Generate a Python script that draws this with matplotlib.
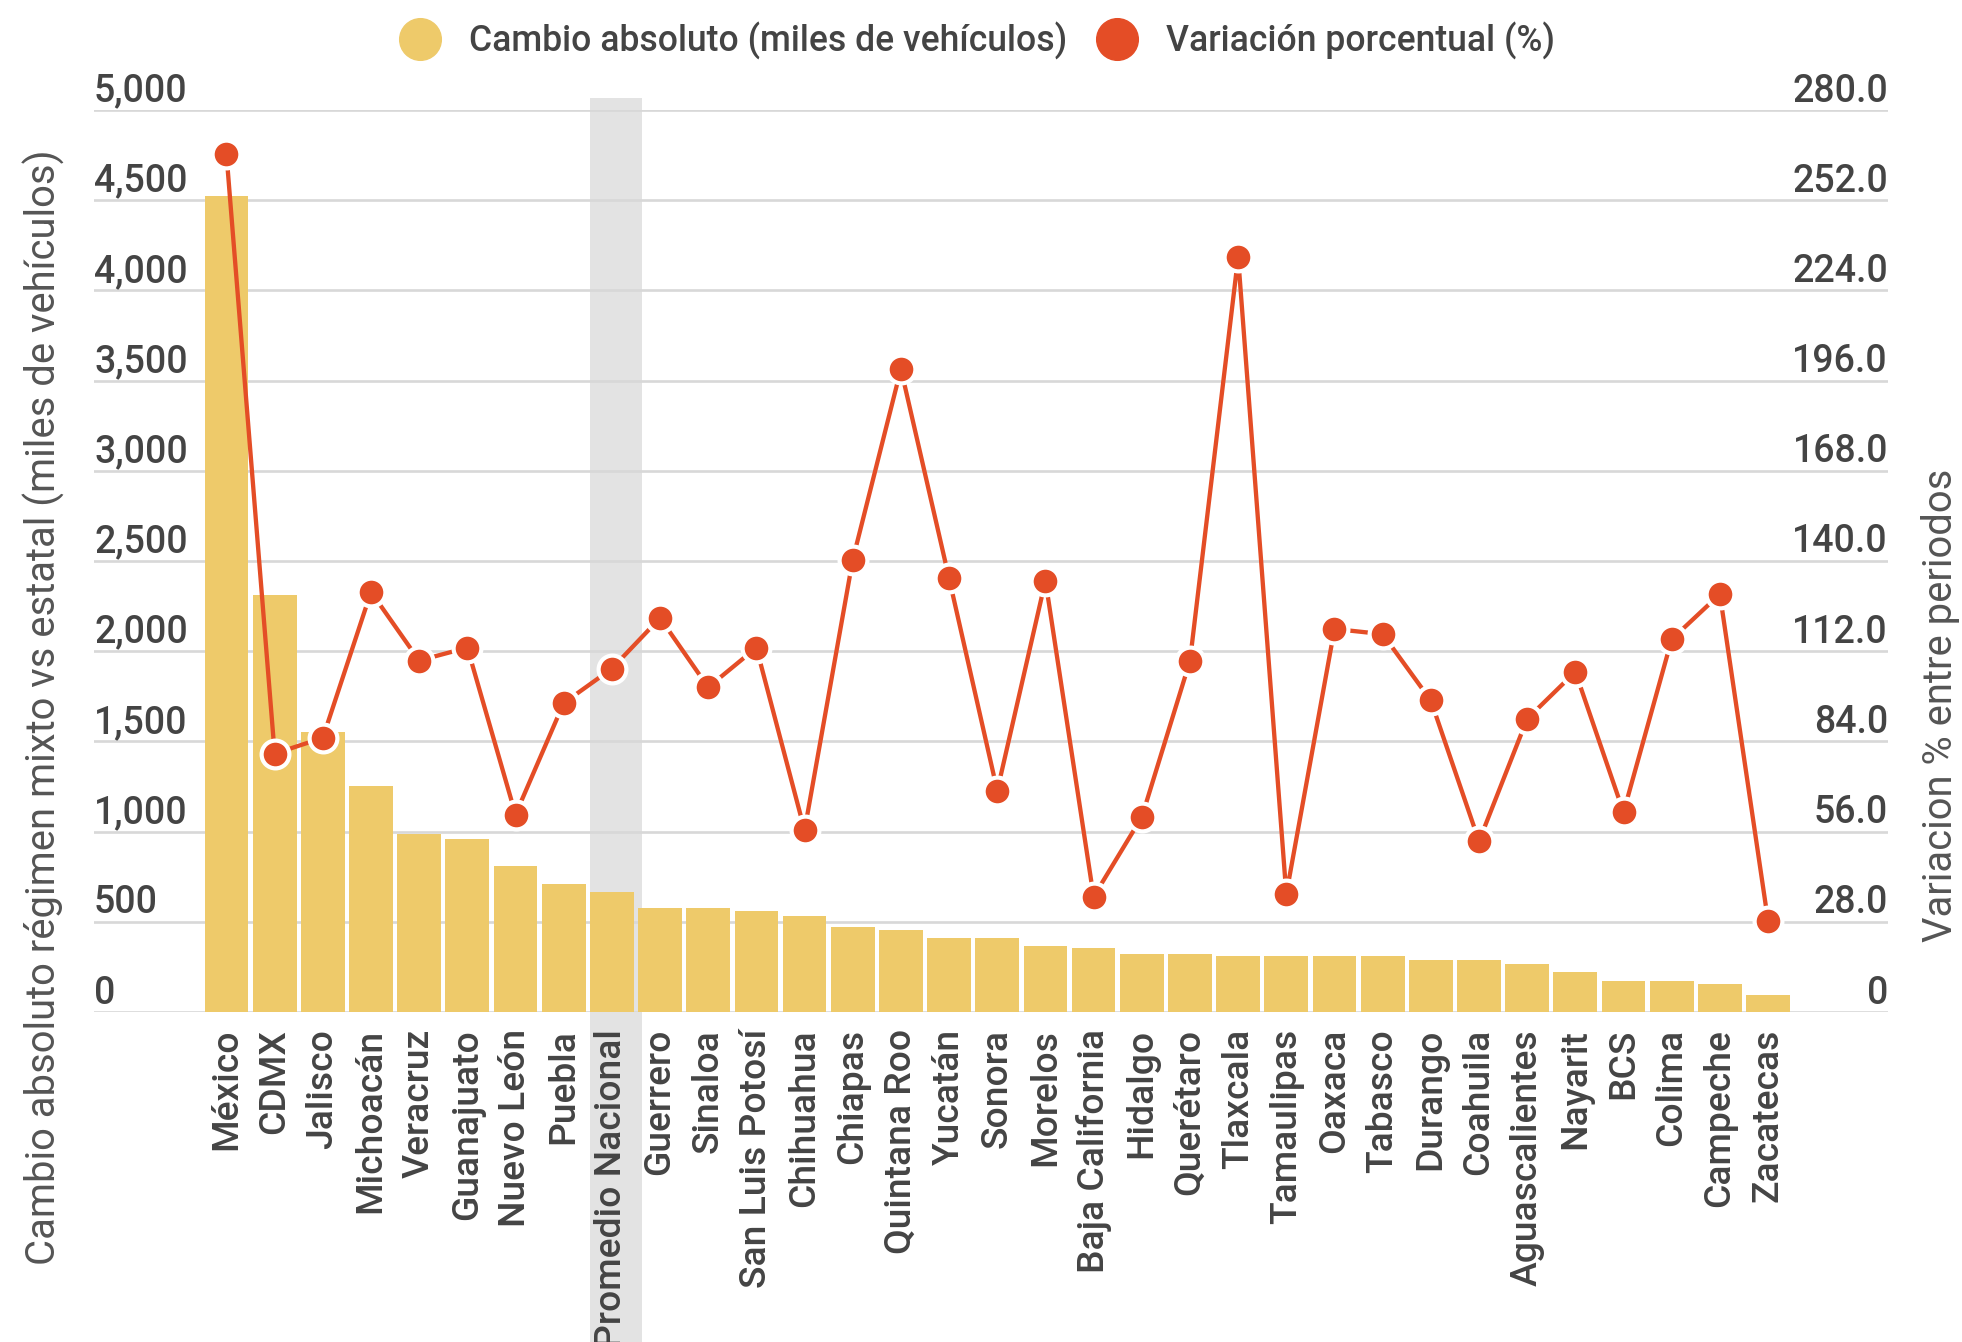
import matplotlib
matplotlib.use("Agg")
import matplotlib.pyplot as plt
from matplotlib.lines import Line2D
from matplotlib.patches import Rectangle
from matplotlib.transforms import ScaledTranslation, blended_transform_factory

# ---- data -----------------------------------------------------------------
estados = [
    "México", "CDMX", "Jalisco", "Michoacán", "Veracruz", "Guanajuato",
    "Nuevo León", "Puebla", "Promedio Nacional", "Guerrero", "Sinaloa",
    "San Luis Potosí", "Chihuahua", "Chiapas", "Quintana Roo", "Yucatán",
    "Sonora", "Morelos", "Baja California", "Hidalgo", "Querétaro",
    "Tlaxcala", "Tamaulipas", "Oaxaca", "Tabasco", "Durango", "Coahuila",
    "Aguascalientes", "Nayarit", "BCS", "Colima", "Campeche", "Zacatecas",
]
cambio_absoluto = [
    4525, 2312, 1551, 1254, 988, 958, 810, 712, 666, 578, 578, 562, 534,
    473, 456, 411, 411, 367, 355, 323, 323, 311, 311, 308, 308, 291, 291,
    264, 219, 174, 174, 154, 95,
]
variacion_pct = [
    266.3, 80.2, 85.1, 130.4, 109.1, 113.1, 61.3, 95.9, 106.6, 122.3, 100.8,
    113.1, 56.4, 140.4, 199.6, 134.6, 68.7, 133.9, 35.8, 60.5, 109.0, 234.3,
    36.6, 118.9, 117.3, 96.7, 53.0, 91.0, 105.6, 62.0, 115.7, 129.7, 28.3,
]
left_ticks = [0, 500, 1000, 1500, 2000, 2500, 3000, 3500, 4000, 4500, 5000]
right_ticks = [0, 28, 56, 84, 112, 140, 168, 196, 224, 252, 280]
destacado = "Promedio Nacional"

# ---- style ----------------------------------------------------------------
plt.rcParams["font.family"] = ["Roboto", "DejaVu Sans"]
BAR = "#EECA6A"
LINE = "#E44D26"
GRID = "#D8D8D8"
BAND = "#E3E3E3"
TXT = "#444444"
TITLE = "#555555"
FS = 27.0

W, H = 1962, 1342
fig = plt.figure(figsize=(W / 100, H / 100), dpi=100)
left, right, bottom, top = 94, 1888, 1012, 110
ax = fig.add_axes([left / W, 1 - bottom / H, (right - left) / W, (bottom - top) / H])
ax2 = ax.twinx()

x = list(range(len(estados)))
ax.set_xlim(-2.75, 34.49)
ax.set_ylim(0, 5000)
ax2.set_ylim(0, 280)

# highlight band behind the national average column
hi = estados.index(destacado)
band_tr = blended_transform_factory(ax.transData, fig.transFigure)
ax.add_patch(Rectangle((hi - 0.45, 0), 1.07, 1 - 98 / H, transform=band_tr,
                       facecolor=BAND, edgecolor="none", zorder=0, clip_on=False))

# gridlines
for t in left_ticks:
    ax.axhline(t, color=GRID, lw=1.9, zorder=1)

ax.bar(x, cambio_absoluto, width=0.908, color=BAR, zorder=2)

ax2.plot(x, variacion_pct, color=LINE, lw=3.1, marker="o", ms=20,
         markerfacecolor=LINE, markeredgecolor="white", mew=3.0, zorder=3)

for a in (ax, ax2):
    for s in a.spines.values():
        s.set_visible(False)
    a.set_yticks([])
    a.tick_params(length=0)

# y tick labels sitting above their gridlines
off = ScaledTranslation(0, 8.5 / 100, fig.dpi_scale_trans)
for t in left_ticks:
    ax.text(0, t, f"{t:,}", transform=ax.get_yaxis_transform() + off,
            ha="left", va="baseline", fontsize=FS, fontweight="medium", color=TXT)
for t in right_ticks:
    ax2.text(1, t, "0" if t == 0 else f"{t:.1f}",
             transform=ax2.get_yaxis_transform() + off,
             ha="right", va="baseline", fontsize=FS, fontweight="medium", color=TXT)

ax.set_xticks(x)
ax.set_xticklabels(estados, rotation=90, ha="center", va="top",
                   fontsize=26.8, fontweight="medium", color=TXT)
ax.tick_params(axis="x", pad=12.2)

fig.text(44 / W, 1 - 707 / H,
         "Cambio absoluto régimen mixto vs estatal (miles de vehículos)",
         rotation=90, ha="center", va="center", fontsize=28.8, color=TITLE)
fig.text(1941 / W, 1 - 705 / H, "Variacion % entre periodos",
         rotation=90, ha="center", va="center", fontsize=28.8, color=TITLE)

handles = [
    Line2D([], [], ls="none", marker="o", ms=30, color=BAR),
    Line2D([], [], ls="none", marker="o", ms=30, color=LINE),
]
LFS = 25.6
fig.legend(handles, ["Cambio absoluto (miles de vehículos)", "Variación porcentual (%)"],
           loc="center", bbox_to_anchor=(977 / W, 1 - 41 / H), ncol=2,
           frameon=False, handlelength=42 / (LFS * 100 / 72),
           handletextpad=28 / (LFS * 100 / 72), columnspacing=28 / (LFS * 100 / 72),
           prop={"size": LFS, "weight": "medium"}, labelcolor=TXT,
           borderpad=0, borderaxespad=0)

fig.savefig("out.png", dpi=100, facecolor="white")
